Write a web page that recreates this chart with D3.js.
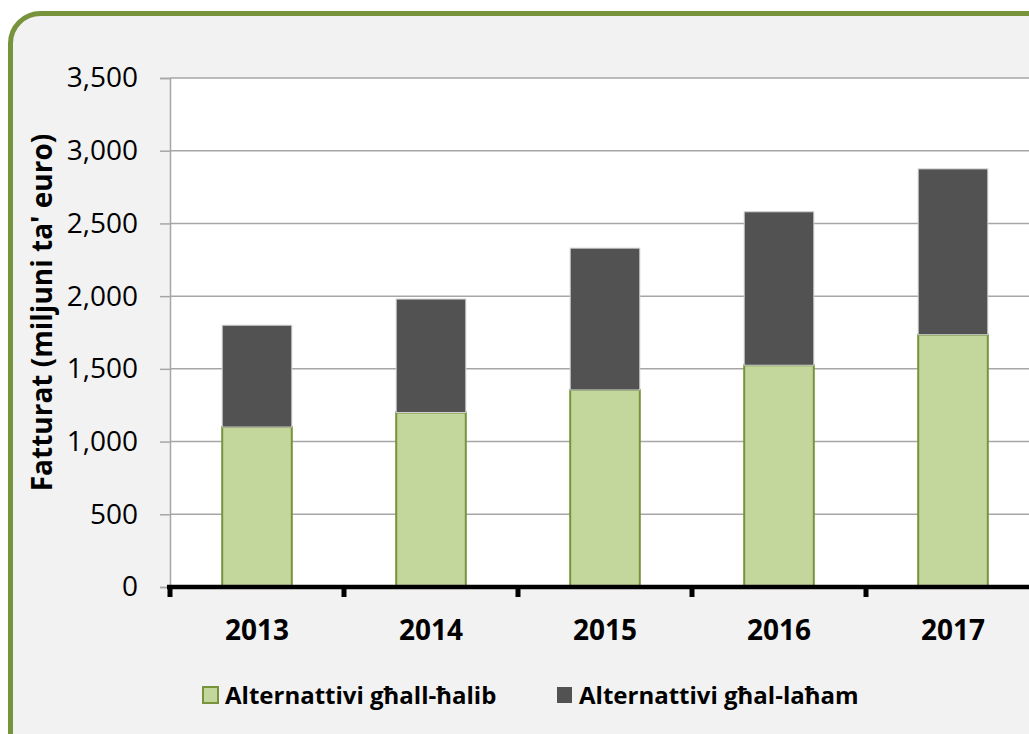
<!DOCTYPE html>
<html lang="mt">
<head>
  <meta charset="UTF-8">
  <title>Fatturat</title>
  <script src="https://d3js.org/d3.v7.min.js"></script>
  <style>
    body { margin: 0; background: #fff; }
    svg text { font-family: "Open Sans", "Noto Sans", sans-serif; fill: #000; }
  </style>
</head>
<body>
<div id="chart"></div>
<script>
  // Data (million euro)
  const years = ['2013', '2014', '2015', '2016', '2017'];
  const milkAlt = [1100, 1200, 1355, 1525, 1735];
  const meatAlt = [700, 780, 975, 1055, 1140];
  const yTicks = [0, 500, 1000, 1500, 2000, 2500, 3000, 3500];
  const seriesNames = ['Alternattivi għall-ħalib', 'Alternattivi għal-laħam'];

  const W = 1029, H = 734;
  const plot = { left: 170, right: 1040, top: 78, bottom: 587 };

  const svg = d3.select('#chart').append('svg')
    .attr('width', W)
    .attr('height', H);

  // outer rounded frame
  svg.append('rect')
    .attr('x', 10.5).attr('y', 13.5)
    .attr('width', W + 40).attr('height', H + 40)
    .attr('rx', 30).attr('ry', 30)
    .attr('fill', '#f2f2f2')
    .attr('stroke', '#77933c')
    .attr('stroke-width', 5);

  const x = d3.scaleBand()
    .domain(years)
    .range([plot.left, plot.right])
    .paddingInner(0.6)
    .paddingOuter(0.3);

  const y = d3.scaleLinear()
    .domain([0, 3500])
    .range([plot.bottom, plot.top]);

  // plot area background
  svg.append('rect')
    .attr('x', plot.left).attr('y', plot.top)
    .attr('width', plot.right - plot.left)
    .attr('height', plot.bottom - plot.top)
    .attr('fill', '#fff');

  // gridlines
  svg.append('g')
    .selectAll('line')
    .data(yTicks.filter(d => d > 0))
    .join('line')
    .attr('x1', plot.left).attr('x2', plot.right)
    .attr('y1', d => y(d)).attr('y2', d => y(d))
    .attr('stroke', '#a6a6a6')
    .attr('stroke-width', 1.5);

  // y axis
  const yAxis = svg.append('g')
    .attr('transform', `translate(${plot.left},0)`)
    .call(d3.axisLeft(y).tickValues(yTicks).tickSize(10).tickPadding(22)
      .tickFormat(d3.format(',')));
  yAxis.select('.domain').attr('stroke', '#a6a6a6').attr('stroke-width', 1.5);
  yAxis.selectAll('.tick line').attr('stroke', '#a6a6a6').attr('stroke-width', 1.5);
  yAxis.selectAll('.tick text').attr('font-size', 28).attr('font-family', null);

  // stacked bars
  const rows = years.map((yr, i) => ({ year: yr, milk: milkAlt[i], meat: meatAlt[i] }));
  const stack = d3.stack().keys(['milk', 'meat'])(rows);
  const fills = ['#c3d69b', '#525252'];
  const strokes = ['#77933c', '#d0d0d0'];

  svg.append('g')
    .selectAll('g')
    .data(stack)
    .join('g')
    .attr('fill', (d, i) => fills[i])
    .attr('stroke', (d, i) => strokes[i])
    .attr('stroke-width', (d, i) => i === 0 ? 2 : 1)
    .selectAll('rect')
    .data(d => d)
    .join('rect')
    .attr('x', d => x(d.data.year))
    .attr('width', x.bandwidth())
    .attr('y', d => y(d[1]))
    .attr('height', d => y(d[0]) - y(d[1]));

  // x axis: thick black baseline with ticks between categories
  const step = x.step();
  const boundaries = d3.range(years.length + 1).map(i => plot.left + i * step);
  svg.append('line')
    .attr('x1', plot.left - 3).attr('x2', plot.right)
    .attr('y1', plot.bottom).attr('y2', plot.bottom)
    .attr('stroke', '#000').attr('stroke-width', 4.5);
  svg.append('g')
    .selectAll('line')
    .data(boundaries)
    .join('line')
    .attr('x1', d => d).attr('x2', d => d)
    .attr('y1', plot.bottom).attr('y2', plot.bottom + 10)
    .attr('stroke', '#000').attr('stroke-width', 5);

  svg.append('g')
    .selectAll('text')
    .data(years)
    .join('text')
    .attr('x', d => x(d) + x.bandwidth() / 2)
    .attr('y', 640)
    .attr('text-anchor', 'middle')
    .attr('font-size', 28)
    .attr('font-weight', 'bold')
    .text(d => d);

  // y axis title
  svg.append('text')
    .attr('transform', `translate(52,${(plot.top + plot.bottom) / 2 - 20}) rotate(-90)`)
    .attr('text-anchor', 'middle')
    .attr('font-size', 28)
    .attr('font-weight', 'bold')
    .text("Fatturat (miljuni ta' euro)");

  // legend
  const legendX = [203, 557];
  const legend = svg.append('g')
    .selectAll('g')
    .data(seriesNames)
    .join('g')
    .attr('transform', (d, i) => `translate(${legendX[i]},687)`);
  legend.append('rect')
    .attr('width', 15).attr('height', 16)
    .attr('fill', (d, i) => fills[i])
    .attr('stroke', (d, i) => i === 0 ? '#77933c' : 'none')
    .attr('stroke-width', 2);
  legend.append('text')
    .attr('x', 22).attr('y', 17)
    .attr('font-size', 24)
    .attr('font-weight', 'bold')
    .text(d => d);
</script>
</body>
</html>
